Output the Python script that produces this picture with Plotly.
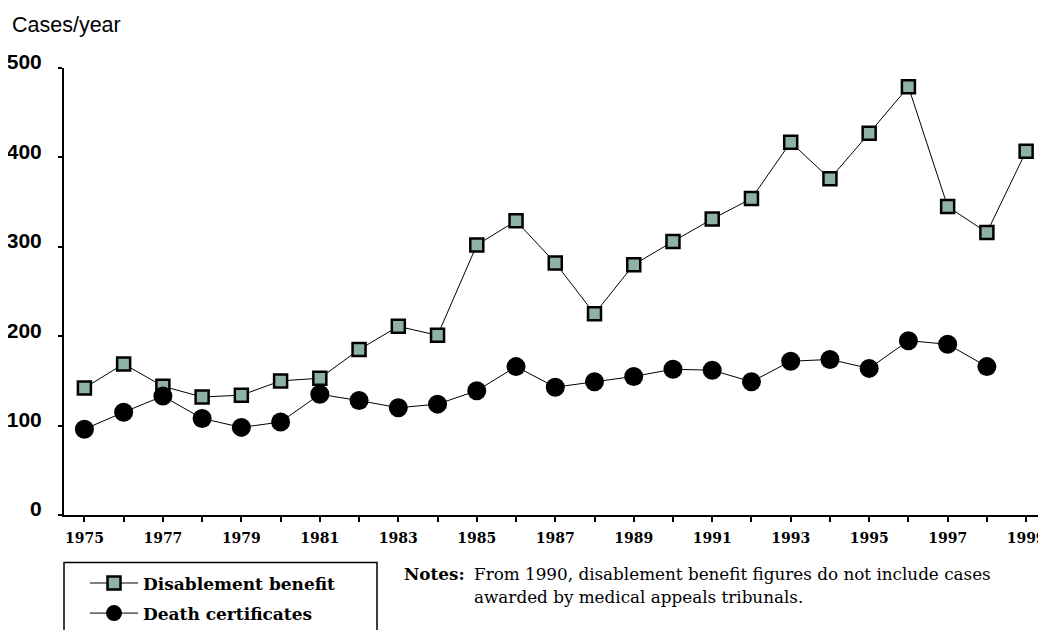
import plotly.graph_objects as go

# Data
years = list(range(1975, 2000))
disablement = [142, 169, 144, 132, 134, 150, 153, 185, 211, 201,
               302, 329, 282, 225, 280, 306, 331, 354, 417, 376,
               427, 479, 345, 316, 407]
death_years = list(range(1975, 1999))
deaths = [96, 115, 133, 108, 98, 104, 135, 128, 120, 124,
          139, 166, 143, 149, 155, 163, 162, 149, 172, 174,
          164, 195, 191, 166]

# the page body adds an 8px offset, so positions below are page pixels minus 8
W, H = 1046, 630
OFF = 8
L, R, T, B = 56, 11, 60, 122.5
PW, PH = W - L - R, H - T - B


def px(x):
    # page pixel x -> paper fraction
    return (x - OFF - L) / PW


def py(y):
    # page pixel y -> paper fraction
    return (H - B - (y - OFF)) / PH


serif = "DejaVu Serif"
sans = "Liberation Sans, Arial"

fig = go.Figure()
fig.add_trace(go.Scatter(
    x=years, y=disablement, mode="lines+markers", name="<b>Disablement benefit</b>",
    legendgroup="a",
    line=dict(color="black", width=1),
    marker=dict(symbol="square", size=13, color="#8fb2a8", line=dict(color="black", width=2.5)),
    cliponaxis=False,
))
fig.add_trace(go.Scatter(
    x=death_years, y=deaths, mode="lines+markers", name="<b>Death certificates</b>",
    legendgroup="b",
    line=dict(color="black", width=1),
    marker=dict(symbol="circle", size=19, color="black"),
    cliponaxis=False,
))

fig.update_layout(
    width=W, height=H,
    margin=dict(l=L, r=R, t=T, b=B, autoexpand=False),
    plot_bgcolor="white", paper_bgcolor="white",
    showlegend=True,
    legend=dict(
        x=px(85), y=py(566), xanchor="left", yanchor="top",
        font=dict(family=serif, size=17, color="black"),
        itemwidth=48, tracegroupgap=5, bgcolor="rgba(0,0,0,0)",
    ),
    xaxis=dict(
        range=[1974.48, 1999.43], tick0=1975, dtick=2,
        showline=True, linecolor="black", linewidth=2,
        ticks="outside", ticklen=5, tickwidth=1.5, tickcolor="black",
        minor=dict(dtick=1, ticks="outside", ticklen=5, tickwidth=1.5, tickcolor="black"),
        showgrid=False, zeroline=False,
        tickfont=dict(family=serif, size=14, color="black", weight="bold"),
        ticklabelstandoff=4,
    ),
    yaxis=dict(
        range=[0, 500], tickvals=[0, 100, 200, 300, 400, 500],
        showline=True, linecolor="black", linewidth=2,
        ticks="outside", ticklen=4, tickwidth=1.5, tickcolor="black",
        showgrid=False, zeroline=False,
        tickfont=dict(family=sans, size=21, color="black", weight="bold"),
        ticklabelstandoff=12, ticklabelshift=-6,
    ),
)

# legend frame
fig.add_shape(type="rect", xref="paper", yref="paper",
              x0=px(64), x1=px(377), y0=py(650), y1=py(563),
              line=dict(color="black", width=1.5), fillcolor="rgba(0,0,0,0)")

fig.add_annotation(text="Cases/year", xref="paper", yref="paper",
                   x=px(10), y=py(25), xanchor="left", yanchor="middle",
                   showarrow=False, font=dict(family=sans, size=21.5, color="black"))

fig.add_annotation(text="<b>Notes:</b>", xref="paper", yref="paper",
                   x=px(467), y=py(575), xanchor="right", yanchor="middle",
                   showarrow=False, font=dict(family=serif, size=16.8, color="black"))
fig.add_annotation(text="From 1990, disablement benefit figures do not include cases",
                   xref="paper", yref="paper",
                   x=px(472), y=py(575), xanchor="left", yanchor="middle",
                   showarrow=False, font=dict(family=serif, size=16.8, color="black"))
fig.add_annotation(text="awarded by medical appeals tribunals.",
                   xref="paper", yref="paper",
                   x=px(472), y=py(598), xanchor="left", yanchor="middle",
                   showarrow=False, font=dict(family=serif, size=16.8, color="black"))

fig.write_html("out.html")
